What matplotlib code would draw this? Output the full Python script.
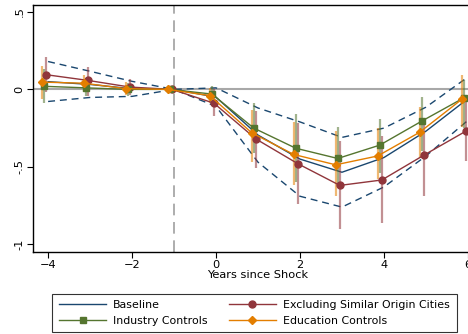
import numpy as np
import matplotlib
matplotlib.use("Agg")
import matplotlib.pyplot as plt

# event time
years = np.array([-4, -3, -2, -1, 0, 1, 2, 3, 4, 5, 6])

# baseline estimate with 95% band (dashed)
base = [0.05, 0.032, 0.004, 0.0, -0.05, -0.295, -0.45, -0.535, -0.44, -0.27, -0.06]
base_hi = [0.18, 0.117, 0.052, 0.0, 0.01, -0.12, -0.21, -0.31, -0.25, -0.115, 0.08]
base_lo = [-0.078, -0.052, -0.045, 0.0, -0.11, -0.47, -0.69, -0.76, -0.63, -0.43, -0.20]

# excluding similar origin cities
excl = [0.095, 0.058, 0.015, 0.0, -0.089, -0.32, -0.48, -0.62, -0.585, -0.425, -0.27]
excl_hi = [0.21, 0.145, 0.065, 0.0, 0.0, -0.14, -0.22, -0.33, -0.30, -0.22, -0.08]
excl_lo = [-0.02, -0.04, -0.035, 0.0, -0.17, -0.51, -0.74, -0.90, -0.86, -0.69, -0.46]

# industry controls
ind = [0.02, 0.01, 0.0, 0.0, -0.03, -0.25, -0.38, -0.446, -0.36, -0.205, -0.055]
ind_hi = [0.13, 0.06, 0.04, 0.0, 0.02, -0.09, -0.16, -0.24, -0.19, -0.05, 0.06]
ind_lo = [-0.09, -0.04, -0.04, 0.0, -0.08, -0.41, -0.60, -0.63, -0.54, -0.40, -0.25]

# education controls
edu = [0.047, 0.04, 0.005, 0.0, -0.04, -0.28, -0.42, -0.487, -0.43, -0.277, -0.065]
edu_hi = [0.15, 0.09, 0.045, 0.0, 0.01, -0.13, -0.21, -0.27, -0.25, -0.115, 0.09]
edu_lo = [-0.06, -0.02, -0.035, 0.0, -0.09, -0.47, -0.62, -0.69, -0.58, -0.44, -0.245]

navy = "#1a476f"
maroon = "#90353b"
green = "#55752f"
orange = "#e37e00"

fig = plt.figure(figsize=(4.68, 3.34), dpi=100)
ax = fig.add_axes([33/468, 1-252/334, 450/468, 247/334])

ax.axhline(0, color="#a8a8a8", lw=1.5, zorder=1)
ax.axvline(-1, color="#a0a0a0", lw=1.2, dashes=(7, 4), zorder=1)

# baseline
ax.plot(years, base_hi, color=navy, lw=1.0, dashes=(5, 3.5), zorder=2)
ax.plot(years, base_lo, color=navy, lw=1.0, dashes=(5, 3.5), zorder=2)
ax.plot(years, base, color=navy, lw=1.0, zorder=3, label="Baseline")

series = [
    (excl, excl_lo, excl_hi, maroon, "o", 5, -0.05, "Excluding Similar Origin Cities"),
    (ind, ind_lo, ind_hi, green, "s", 4.5, -0.10, "Industry Controls"),
    (edu, edu_lo, edu_hi, orange, "D", 4.5, -0.15, "Education Controls"),
]
for y, lo, hi, c, m, ms, off, lab in series:
    xs = years + off
    ax.vlines(xs, lo, hi, color=c, lw=1.6, alpha=0.55, zorder=3)
    ax.plot(xs, y, color=c, lw=1.0, marker=m, ms=ms, zorder=4, label=lab)

ax.set_xlim(-4.36, 6.36)
ax.set_ylim(-1.05, 0.545)
ax.set_xticks([-4, -2, 0, 2, 4, 6])
ax.set_yticks([-1, -0.5, 0, 0.5])
ax.set_yticklabels(["-1", "-.5", "0", ".5"], rotation=90, va="center")
ax.tick_params(labelsize=8.2, length=4, width=0.8, pad=2)
for s in ax.spines.values():
    s.set_linewidth(1.0)
ax.set_xlabel("Years since Shock", fontsize=8.2, labelpad=0)

hs, ls = ax.get_legend_handles_labels()
order = ["Baseline", "Industry Controls", "Excluding Similar Origin Cities", "Education Controls"]
hmap = dict(zip(ls, hs))
leg = fig.legend([hmap[k] for k in order], order, ncol=2, loc="center",
                 bbox_to_anchor=(254.5/468, 1-313/334), fontsize=7.9,
                 frameon=True, fancybox=False, edgecolor="black",
                 handlelength=4.3, columnspacing=1.9, labelspacing=0.5,
                 borderpad=0.6, handletextpad=0.65, borderaxespad=0)
leg.get_frame().set_linewidth(0.8)

fig.savefig("out.png", dpi=100)
